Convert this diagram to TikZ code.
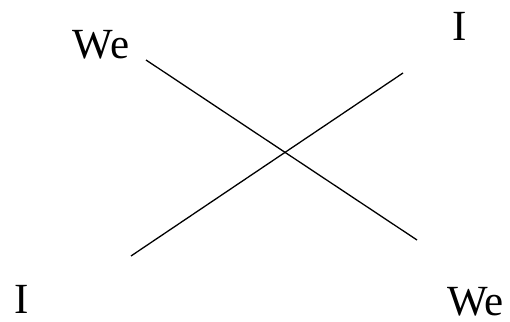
\documentclass[tikz,border=0pt]{standalone}
\usepackage{fontspec}
\setmainfont{Liberation Serif}
\begin{document}
\begin{tikzpicture}[x=1pt,y=1pt,
  lbl/.style={inner sep=0pt,font=\fontsize{43}{48}\selectfont},
  ln/.style={line width=1.3pt}]
\useasboundingbox (0,0) rectangle (510,321);
\node[lbl,anchor=base] (we1) at (101,262) {We};
\node[lbl,anchor=base] (i1) at (460,280) {I};
\node[lbl,anchor=base] (i2) at (21.5,8) {I};
\node[lbl,anchor=base west] (we2) at (447,6) {We};
\coordinate (a) at (146,261);
\coordinate (b) at (417,81);
\coordinate (c) at (131,65);
\coordinate (d) at (403,248);
\draw[ln] (a) -- (b);
\draw[ln] (c) -- (d);
\end{tikzpicture}
\end{document}
